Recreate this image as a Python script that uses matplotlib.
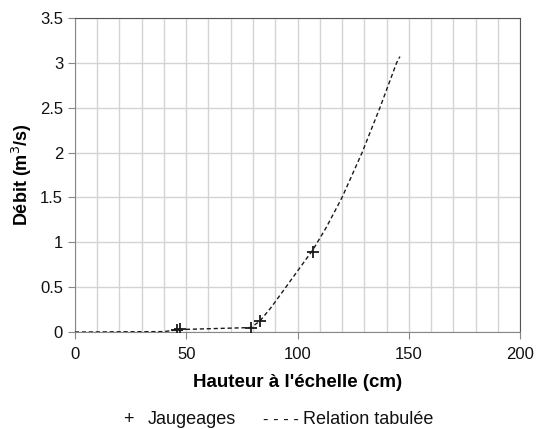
import numpy as np
import matplotlib
matplotlib.use("Agg")
import matplotlib.pyplot as plt
from matplotlib.ticker import MultipleLocator

plt.rcParams['font.family'] = ['Liberation Sans', 'DejaVu Sans']

# gaugings (stage cm, discharge m3/s)
jaug_h = [46, 47, 79, 83, 107]
jaug_q = [0.02, 0.03, 0.05, 0.12, 0.89]

# tabulated rating relation
tab_h = [0, 40, 46, 50, 79, 83, 88, 93, 100, 107, 113, 120, 129, 137, 144.5, 146]
tab_q = [0, 0.005, 0.025, 0.03, 0.05, 0.12, 0.27, 0.44, 0.68, 0.92, 1.17, 1.5, 2.0, 2.5, 3.0, 3.07]

fig = plt.figure(figsize=(5.39, 4.29), dpi=100)
ax = fig.add_axes([0.139, 0.226, 0.826, 0.732])

ax.plot(tab_h, tab_q, color="#1a1a1a", lw=1.0, ls=(0, (3, 2)), zorder=3)
ax.plot(jaug_h, jaug_q, ls="none", marker="+", ms=8, mew=1.3, color="#1a1a1a", zorder=4)

ax.set_xlim(0, 200)
ax.set_ylim(0, 3.5)
ax.xaxis.set_major_locator(MultipleLocator(50))
ax.xaxis.set_minor_locator(MultipleLocator(10))
ax.set_yticks([0, 0.5, 1, 1.5, 2, 2.5, 3, 3.5])
ax.set_yticklabels(["0", "0.5", "1", "1.5", "2", "2.5", "3", "3.5"])
ax.grid(which="both", color="#d4d4d4", lw=1.0)
ax.set_axisbelow(True)

ax.tick_params(which="both", direction="out", color="#888888", labelsize=12, colors="#111111")
ax.tick_params(which="major", length=5)
ax.tick_params(axis="x", pad=5.5)
ax.tick_params(which="minor", length=0)
for s in ["left", "bottom"]:
    ax.spines[s].set_color("#888888")
for s in ["top", "right"]:
    ax.spines[s].set_color("#555555")

ax.set_xlabel("Hauteur à l'échelle (cm)", fontsize=13.5, fontweight="bold", labelpad=9)
ax.set_ylabel("Débit (m$^3$/s)", fontsize=13, fontweight="bold", labelpad=4)

# legend written as text, like the original
ly = 1 - 420 / 429
fig.text(128 / 539, ly, "+", fontsize=13, ha="center", va="center", color="#111111")
fig.text(148 / 539, ly, "Jaugeages", fontsize=13, ha="left", va="center", color="#111111")
fig.text(263 / 539, ly, "- - - -", fontsize=12, ha="left", va="center", color="#111111")
fig.text(303 / 539, ly, "Relation tabulée", fontsize=13, ha="left", va="center", color="#111111")

fig.savefig("out.png", dpi=100)
